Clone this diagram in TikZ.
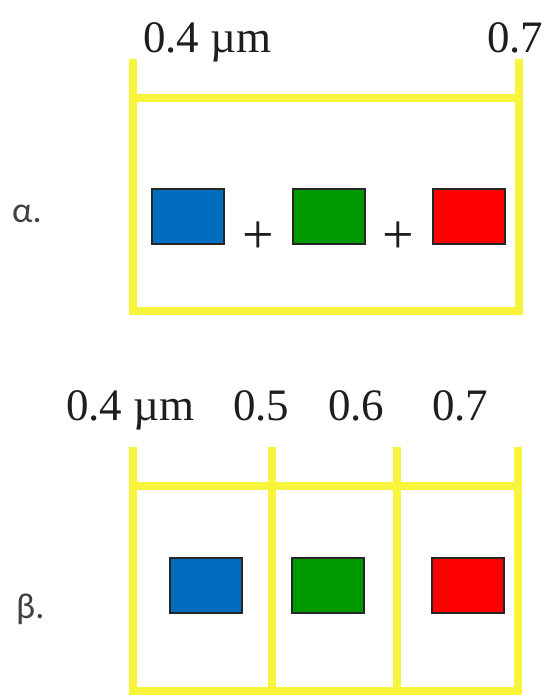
\documentclass[tikz,border=0pt]{standalone}
\usepackage{fontspec}
\setmainfont{Liberation Serif}
\newfontfamily\greekfont{Carlito}
\definecolor{ybar}{RGB}{248,244,60}
\definecolor{sqblue}{RGB}{0,108,192}
\definecolor{sqgreen}{RGB}{0,152,0}
\definecolor{sqred}{RGB}{255,0,0}
\definecolor{txt}{RGB}{30,30,30}
\tikzset{
  ybarline/.style={draw=ybar, line width=8.5pt, line cap=butt, line join=miter},
  sq/.style={draw=black!85, line width=1.5pt, minimum width=72pt, minimum height=55pt, inner sep=0pt, anchor=north west},
  num/.style={font=\fontsize{45}{50}\selectfont, text=txt, inner sep=0pt, anchor=base west},
  lbl/.style={font=\greekfont\fontsize{36}{40}\selectfont, text=txt!85, inner sep=0pt, anchor=base west},
  plussign/.style={font=\fontsize{56}{60}\selectfont, text=txt, inner sep=0pt}
}
\begin{document}
\begin{tikzpicture}[x=1pt,y=-1pt]
\useasboundingbox[fill=white] (0,0) rectangle (544,696);
% ---- alpha panel ----
\draw[ybarline] (133,59) -- (133,311) -- (519,311) -- (519,59);
\draw[ybarline] (133,98) -- (519,98);
\node[num] (a04) at (143,52) {0.4 µm};
\node[num] (a07) at (487,52) {0.7};
\node[lbl] (alpha) at (12,222) {α.};
\node[sq, fill=sqblue] (ab) at (151,188) {};
\node[sq, fill=sqgreen] (ag) at (292,188) {};
\node[sq, fill=sqred] (ar) at (432,188) {};
\node[plussign] (p1) at (258,238) {+};
\node[plussign] (p2) at (398,238) {+};
% ---- beta panel ----
\draw[ybarline] (133,447) -- (133,691) -- (518,691) -- (518,447);
\draw[ybarline] (272,447) -- (272,691);
\draw[ybarline] (397,447) -- (397,691);
\draw[ybarline] (133,486) -- (518,486);
\node[num] (b04) at (66,420) {0.4 µm};
\node[num] (b05) at (233,420) {0.5};
\node[num] (b06) at (328,420) {0.6};
\node[num] (b07) at (432,420) {0.7};
\node[lbl] (beta) at (16,618) {β.};
\node[sq, fill=sqblue] (bb) at (169,557) {};
\node[sq, fill=sqgreen] (bg) at (291,557) {};
\node[sq, fill=sqred] (br) at (431,557) {};
\end{tikzpicture}
\end{document}
